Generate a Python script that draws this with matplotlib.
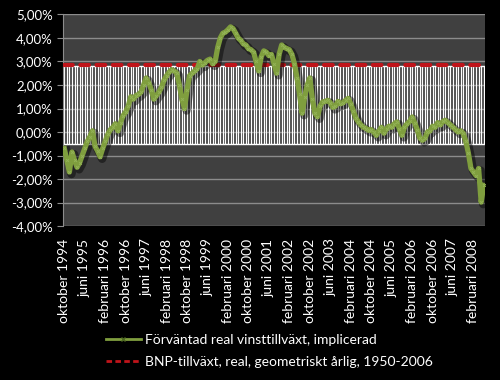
import numpy as np
import matplotlib.pyplot as plt
import matplotlib.patheffects as pe
from matplotlib.lines import Line2D
from matplotlib.ticker import FuncFormatter, FixedLocator

# månadsdata okt 1994 - juni 2008 (165 punkter), procent
vinst = [-0.70, -1.20, -1.70, -0.85, -1.20, -1.50, -1.30, -1.00, -0.70, -0.40,
         -0.20, 0.05, -0.60, -0.80, -1.05, -0.70, -0.40, -0.10, 0.10, 0.20,
         0.35, 0.05, 0.40, 0.70, 0.85, 1.10, 1.50, 1.40, 1.55, 1.60,
         1.70, 2.00, 2.30, 2.10, 1.80, 1.40, 1.55, 1.70, 1.90, 2.20,
         2.40, 2.55, 2.65, 2.60, 2.50, 2.00, 1.40, 1.00, 1.80, 2.40,
         2.50, 2.60, 2.70, 3.00, 2.85, 2.95, 3.05, 3.10, 2.90, 3.00,
         3.60, 4.00, 4.20, 4.25, 4.35, 4.47, 4.40, 4.20, 4.00, 3.90,
         3.75, 3.70, 3.55, 3.50, 3.40, 3.00, 2.60, 3.20, 3.45, 3.40,
         3.25, 3.30, 2.90, 2.50, 3.30, 3.70, 3.60, 3.55, 3.50, 3.30,
         2.90, 2.30, 1.60, 0.80, 1.50, 2.00, 2.30, 1.40, 0.80, 0.65,
         1.10, 1.28, 1.30, 1.35, 1.25, 1.05, 1.10, 1.30, 1.20, 1.25,
         1.35, 1.43, 1.20, 0.90, 0.60, 0.43, 0.30, 0.20, 0.15, 0.07,
         0.10, 0.00, -0.14, 0.05, 0.20, -0.05, 0.15, 0.25, 0.20, 0.35,
         0.43, 0.15, -0.14, 0.20, 0.35, 0.45, 0.64, 0.40, 0.10, -0.25,
         -0.35, -0.27, 0.00, 0.05, 0.25, 0.20, 0.40, 0.30, 0.45, 0.50,
         0.40, 0.30, 0.20, 0.10, 0.00, 0.05, -0.06, -0.40, -0.90, -1.55,
         -1.70, -1.85, -1.55, -2.98, -2.27]
bnp = 2.85
band_low = -0.5
band_high = 2.8

tick_labels = ['oktober 1994', 'juni 1995', 'februari 1996', 'oktober 1996',
               'juni 1997', 'februari 1998', 'oktober 1998', 'juni 1999',
               'februari 2000', 'oktober 2000', 'juni 2001', 'februari 2002',
               'oktober 2002', 'juni 2003', 'februari 2004', 'oktober 2004',
               'juni 2005', 'februari 2006', 'oktober 2006', 'juni 2007',
               'februari 2008']

plt.rcParams['font.family'] = ['Lato', 'DejaVu Sans']

green = '#7f9e3e'
red = '#c0141a'

n = len(vinst)
x = np.arange(n)

fig = plt.figure(figsize=(5, 3.8), dpi=100, facecolor='black')
ax = fig.add_axes([0.126, 0.405, 0.844, 0.557])
ax.set_facecolor('#404040')

ax.set_xlim(-0.5, n - 0.5)
ax.set_ylim(-4, 5)
ax.set_yticks(np.arange(-4, 6, 1))
ax.yaxis.set_major_formatter(FuncFormatter(lambda v, p: ('%.2f%%' % v).replace('.', ',')))
ax.grid(axis='y', color='#8c8c8c', linewidth=1)
ax.set_axisbelow(True)

# vita high-low-linjer
ax.vlines(x, band_low, band_high, color='white', linewidth=0.9, zorder=2)
ax.hlines([band_low, band_high], -0.5, n - 0.5, color='white', linewidth=1, zorder=2)

ax.plot(x, [bnp] * n, color=red, linestyle=(0, (2.1, 1.8)), linewidth=3,
        dash_capstyle='round', zorder=3)

ax.plot(x, vinst, color=green, linewidth=3.8, zorder=4,
        path_effects=[pe.SimpleLineShadow(offset=(1.5, -1.5), shadow_color='black', alpha=0.45, linewidth=6),
                      pe.Normal()])
ax.plot(x, vinst, linewidth=0, marker='x', markersize=2,
        markeredgewidth=0.7, markeredgecolor='#93b356', zorder=5)

ax.xaxis.set_major_locator(FixedLocator(np.arange(0, n, 8)))
ax.set_xticklabels(tick_labels, rotation=90, color='white', fontsize=10)
ax.tick_params(axis='x', length=0, pad=9)
ax.tick_params(axis='y', colors='white', labelsize=9.5, length=4, direction='out')
ax.tick_params(axis='y', color='#8c8c8c')
for s in ['top', 'right', 'bottom']:
    ax.spines[s].set_visible(False)
ax.spines['left'].set_color('#8c8c8c')

handles = [Line2D([], [], color=green, linewidth=2, marker='x', markersize=3,
                  markevery=[1], markeredgecolor='#4f6a22'),
           Line2D([], [], color=red, linewidth=2, linestyle=(0, (2, 1.2)))]
labels = ['Förväntad real vinsttillväxt, implicerad',
          'BNP-tillväxt, real, geometriskt årlig, 1950-2006']
leg = fig.legend(handles, labels, loc='upper left', bbox_to_anchor=(0.212, 0.122),
                 frameon=False, fontsize=10, labelcolor='white', borderpad=0,
                 borderaxespad=0, handlelength=2.5, handletextpad=0.3,
                 labelspacing=0.75)

fig.savefig('out.png', dpi=100, facecolor='black')
